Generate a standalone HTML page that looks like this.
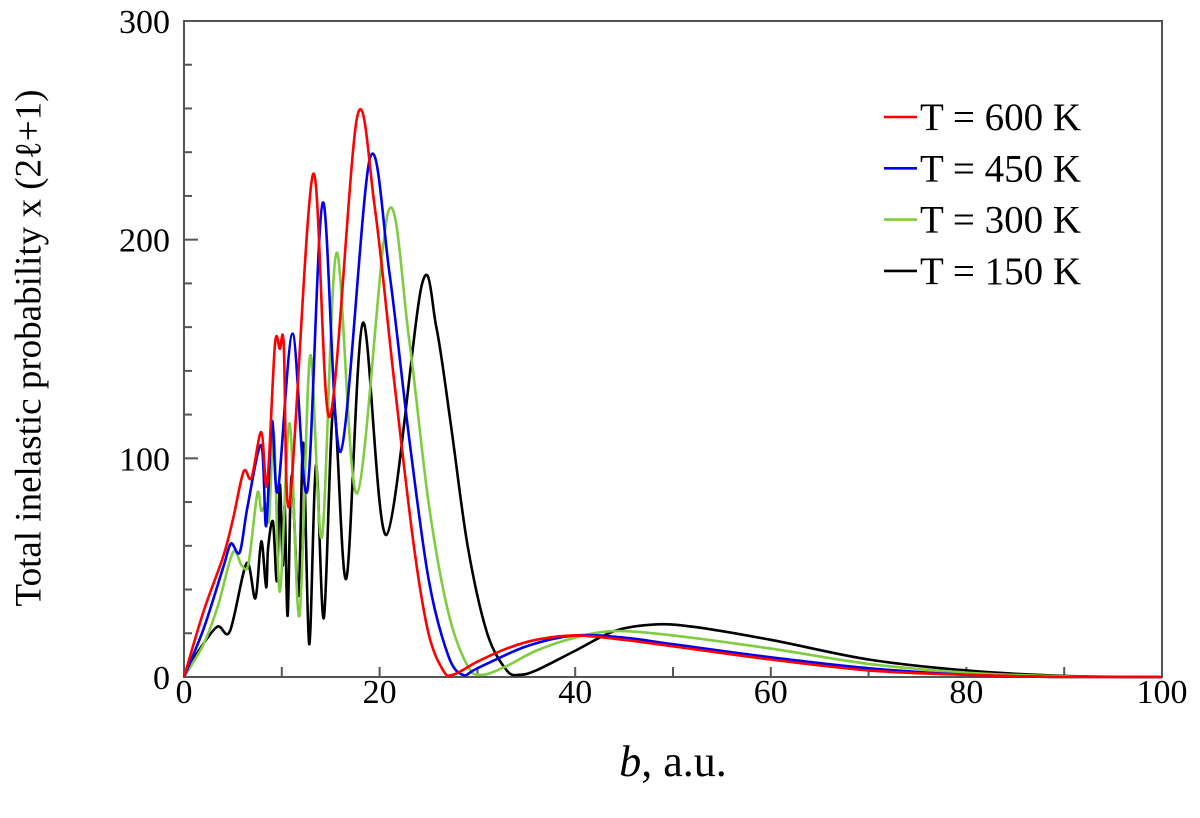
<!DOCTYPE html>
<html><head><meta charset="utf-8"><style>
html,body{margin:0;padding:0;background:#fff;}
svg{display:block;font-family:"Liberation Serif",serif;}
</style></head><body>
<svg id="chart" width="1200" height="818" viewBox="0 0 1200 818">
<rect x="184" y="21" width="978" height="656" fill="none" stroke="#555" stroke-width="2"/>
<g id="ticks"></g>
<g id="series"></g>
<text x="32" y="348" transform="rotate(-90 32 348)" text-anchor="middle" dominant-baseline="middle" font-size="37">Total inelastic probability x (2ℓ+1)</text>
<text x="673" y="776" text-anchor="middle" font-size="44"><tspan font-style="italic">b</tspan>, a.u.</text>
<g id="legend"></g>
</svg>
<script>
const xTicks=[0,20,40,60,80,100];
const yTicks=[0,100,200,300];
const seriesNames=["T = 600 K","T = 450 K","T = 300 K","T = 150 K"];
const seriesColors=["#ff0000","#0000ee","#80cc40","#000000"];
const red=[[0,0],[2,30],[4,55],[5,72],[6.1,94],[6.9,91],[7.9,112],[8.5,88],[9.3,152],[9.8,150],[10.2,152],[10.8,79],[13.2,230],[14.9,119],[17.7,256],[19.5,215],[21.5,135],[23.5,60],[25,20],[26.5,3],[27.5,1],[30,7],[33,13],[36,17],[40,19],[45,17],[50,14],[60,8],[70,3],[80,1],[90,0],[100,0]];
const blue=[[0,0],[2,22],[4,50],[4.8,61],[5.7,57],[6.5,78],[7.9,106],[8.4,69],[9.0,117],[9.6,85],[11.1,157],[12.6,85],[14.2,217],[16.0,103],[19.0,237],[21,185],[23,110],[25,45],[27,10],[28.5,1],[30,4],[35,14],[40,19],[45,18],[50,15],[60,9],[70,4],[80,1],[90,0],[100,0]];
const green=[[0,0],[2,15],[3.5,33],[5.0,57],[5.9,51],[6.6,52],[7.5,84],[7.9,76],[8.4,79],[8.7,72],[9.2,112],[9.8,39],[10.8,116],[11.8,28],[12.9,147],[14.1,64],[15.6,194],[17.7,84],[20.9,213],[23,155],[25,80],[27,30],[29,5],[30.5,1],[33,5],[36,12],[40,18],[44,21],[50,19],[60,13],[70,6],[80,2],[90,0.3],[100,0]];
const black=[[0,0],[1.5,12],[3.4,23],[4.7,21],[6.4,52],[7.3,36],[7.9,62],[8.4,41],[8.6,59],[9.1,71],[9.5,44],[9.8,88],[10.1,51],[10.3,78],[10.6,28],[11.0,92],[11.7,37],[12.2,107],[12.8,15],[13.5,97],[14.3,27],[15.3,124],[16.6,45],[18.3,162],[20.7,65],[24.3,179],[25.8,160],[27.3,115],[29,60],[31,20],[33,3],[34.3,1],[36,3],[40,12],[44,21],[48,24],[52,23],[60,17],[70,8],[80,3],[90,0.5],[100,0]];
const allSeries=[red,blue,green,black];
const NS="http://www.w3.org/2000/svg";
const X0=184,X1=1162,Y0=677,Y1=21;
function sx(b){return X0+(b/100)*(X1-X0);}
function sy(v){return Y0-(v/300)*(Y0-Y1);}
function mk(tag,attrs,parent){const e=document.createElementNS(NS,tag);for(const k in attrs)e.setAttribute(k,attrs[k]);parent.appendChild(e);return e;}
const tg=document.getElementById('ticks');
for(let b=10;b<100;b+=10){
  const t=mk('line',{x1:sx(b),x2:sx(b),y1:Y0,y2:Y0-10,stroke:'#555','stroke-width':2},tg);
  
  
}
for(let v=20;v<300;v+=20){
  const len=(v%100===0)?14:8;
  const t=mk('line',{x1:X0,x2:X0+len,y1:sy(v),y2:sy(v),stroke:'#555','stroke-width':2},tg);
  
  
}
xTicks.forEach(b=>{
  const t=mk('text',{x:sx(b),y:703,'text-anchor':'middle','font-size':34},tg);
  t.textContent=b;
  
  
});
yTicks.forEach(v=>{
  const t=mk('text',{x:170,y:sy(v)+12,'text-anchor':'end','font-size':34},tg);
  t.textContent=v;
  
  
});
function pathFor(pts){
  const P=pts.map(p=>[sx(p[0]),sy(p[1])]);
  let d='M'+P[0][0].toFixed(2)+','+P[0][1].toFixed(2);
  for(let i=0;i<P.length-1;i++){
    const p0=P[Math.max(0,i-1)],p1=P[i],p2=P[i+1],p3=P[Math.min(P.length-1,i+2)];
    const t=0.16;
    const c1=[p1[0]+(p2[0]-p0[0])*t,p1[1]+(p2[1]-p0[1])*t];
    const c2=[p2[0]-(p3[0]-p1[0])*t,p2[1]-(p3[1]-p1[1])*t];
    c1[1]=Math.min(c1[1],Y0);c2[1]=Math.min(c2[1],Y0);
    d+=' C'+c1[0].toFixed(2)+','+c1[1].toFixed(2)+' '+c2[0].toFixed(2)+','+c2[1].toFixed(2)+' '+p2[0].toFixed(2)+','+p2[1].toFixed(2);
  }
  return d;
}
const sg=document.getElementById('series');
const lg=document.getElementById('legend');
const order=[3,2,1,0];
order.forEach(i=>{
  const p=mk('path',{d:pathFor(allSeries[i]),fill:'none',stroke:seriesColors[i],'stroke-width':2.6,'stroke-linejoin':'round'},sg);
  
  
});
seriesNames.forEach((n,i)=>{
  const y=117+i*51.3;
  const g=mk('g',{},lg);
  
  
  mk('line',{x1:884,x2:917,y1:y,y2:y,stroke:seriesColors[i],'stroke-width':2.6},g);
  const t=mk('text',{x:920,y:y+13,'font-size':39},g);
  t.textContent=n;
});
</script>
</body></html>
